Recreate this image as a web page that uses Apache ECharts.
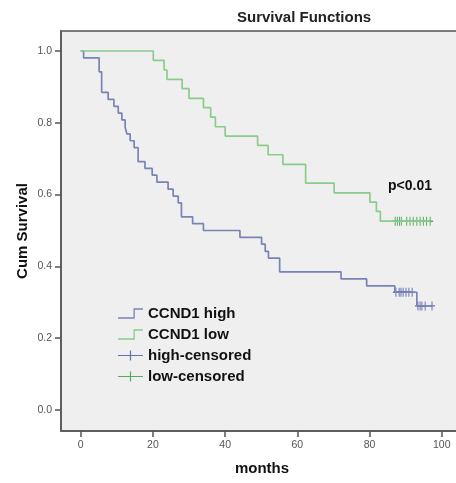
<!DOCTYPE html>
<html>
<head>
<meta charset="utf-8">
<title>Survival Functions</title>
<script src="https://cdn.jsdelivr.net/npm/echarts@6/dist/echarts.min.js"></script>
<style>
html, body { margin: 0; padding: 0; background: #fff; }
#main { width: 456px; height: 483px; }
</style>
</head>
<body>
<div id="main"></div>
<script>
// CCND1 high: months at each drop and survival after it
var highTimes = [0, 0.8, 5.1, 5.8, 7.6, 9.2, 10.4, 11.4, 12.3, 12.8, 13.7, 14.8, 15.9, 17.8, 19.8, 21.1,
    24.2, 25.6, 27.0, 27.9, 31.0, 34.0, 44.1, 50.1, 51.1, 52.0, 55.1, 72.1, 79.2, 87.0, 93.1];
var highSurv = [1, 0.981, 0.942, 0.885, 0.865, 0.846, 0.827, 0.808, 0.788, 0.769, 0.750, 0.731, 0.692, 0.673, 0.654, 0.635,
    0.615, 0.596, 0.577, 0.538, 0.519, 0.500, 0.481, 0.462, 0.442, 0.423, 0.385, 0.365, 0.346, 0.328, 0.290];
var highCensored = [87.3, 88.2, 88.7, 89.3, 90.1, 90.9, 91.8, 93.4, 94.0, 94.5, 95.4, 97.3];

// CCND1 low
var lowTimes = [0, 20.1, 23.1, 23.9, 28.1, 30.0, 34.0, 36.0, 37.3, 40.0, 49.0, 51.9, 56.0, 62.3, 70.2, 80.1, 81.9, 83.0];
var lowSurv = [1, 0.974, 0.947, 0.921, 0.895, 0.868, 0.842, 0.816, 0.789, 0.763, 0.737, 0.711, 0.684, 0.632, 0.605, 0.579, 0.553, 0.526];
var lowCensored = [87.1, 87.7, 88.3, 88.8, 90.3, 91.2, 92.1, 93.1, 94.0, 94.9, 95.8, 96.8];

var xTicks = [0, 20, 40, 60, 80, 100];
var yTicks = [0, 0.2, 0.4, 0.6, 0.8, 1.0];

var blue = '#7a83b6', blueMark = '#4152a4';
var green = '#8bcc8b', greenMark = '#2f9a40';
var font = '"Liberation Sans", Arial, sans-serif';

var stepIcon = 'path://M0,9 L15.5,9 L15.5,0 L25,0 L25,1.3 L16.8,1.3 L16.8,10.3 L0,10.3 Z';
var plusIcon = 'path://M0,4.4 L11.9,4.4 L11.9,0 L13.1,0 L13.1,4.4 L25,4.4 L25,5.6 L13.1,5.6 L13.1,10 L11.9,10 L11.9,5.6 L0,5.6 Z';
var plusMark = 'path://M4.2,0 L5.8,0 L5.8,4.2 L10,4.2 L10,5.8 L5.8,5.8 L5.8,10 L4.2,10 L4.2,5.8 L0,5.8 L0,4.2 L4.2,4.2 Z';

function survAt(times, surv, t) {
    var s = surv[0];
    for (var i = 0; i < times.length; i++) {
        if (times[i] <= t) s = surv[i];
    }
    return s;
}
// step curve runs on to the last censored case
function curve(times, surv, censored) {
    var pts = times.map(function (t, i) { return [t, surv[i]]; });
    pts.push([censored[censored.length - 1], surv[surv.length - 1]]);
    return pts;
}
function marks(times, surv, censored) {
    return censored.map(function (t) { return [t, survAt(times, surv, t)]; });
}

var myChart = echarts.init(document.getElementById('main'));
myChart.setOption({
    animation: false,
    textStyle: { fontFamily: font },
    title: {
        text: 'Survival Functions',
        left: 237, top: 10, padding: 0,
        textStyle: { fontSize: 15, fontWeight: 'bold', color: '#222', fontFamily: font }
    },
    legend: {
        orient: 'vertical',
        left: 118, top: 306, padding: 0,
        itemWidth: 25, itemHeight: 11, itemGap: 6,
        textStyle: { fontSize: 15, fontWeight: 'bold', color: '#111', fontFamily: font },
        data: [
            { name: 'CCND1 high', icon: stepIcon },
            { name: 'CCND1 low', icon: stepIcon },
            { name: 'high-censored', icon: plusIcon },
            { name: 'low-censored', icon: plusIcon }
        ]
    },
    grid: {
        show: true, left: 61, top: 31, width: 410, height: 400,
        outerBoundsMode: 'none', containLabel: false,
        backgroundColor: '#efefef', borderColor: '#555', borderWidth: 1.5
    },
    xAxis: {
        type: 'value', min: -5.46, max: 108.1,
        name: 'months', nameLocation: 'middle', nameGap: 30, nameMoveOverlap: false,
        nameTextStyle: { fontSize: 15, fontWeight: 'bold', color: '#111', fontFamily: font, padding: [0, 8, 0, 0] },
        axisLine: { show: true, onZero: false, lineStyle: { color: '#555', width: 1.5 } },
        axisTick: { show: true, length: 6, customValues: xTicks, lineStyle: { color: '#555', width: 1.5 } },
        axisLabel: { customValues: xTicks, fontSize: 10.5, color: '#555', margin: 9 },
        splitLine: { show: false }
    },
    yAxis: {
        type: 'value', min: -0.0585, max: 1.0557,
        name: 'Cum Survival', nameLocation: 'middle', nameGap: 31, nameMoveOverlap: false,
        nameTextStyle: { fontSize: 15, fontWeight: 'bold', color: '#111', fontFamily: font },
        axisLine: { show: true, onZero: false, lineStyle: { color: '#555', width: 1.5 } },
        axisTick: { show: true, length: 6, customValues: yTicks, lineStyle: { color: '#555', width: 1.5 } },
        axisLabel: {
            customValues: yTicks, fontSize: 10.5, color: '#555', margin: 9,
            formatter: function (v) { return v.toFixed(1); }
        },
        splitLine: { show: false }
    },
    graphic: [{
        type: 'text', left: 388, top: 179,
        style: { text: 'p<0.01', font: 'bold 14px ' + font, fill: '#111' }
    }],
    series: [
        {
            name: 'CCND1 high', type: 'line', step: 'end', symbol: 'none',
            data: curve(highTimes, highSurv, highCensored),
            lineStyle: { color: blue, width: 1.7 }, itemStyle: { color: blue }
        },
        {
            name: 'CCND1 low', type: 'line', step: 'end', symbol: 'none',
            data: curve(lowTimes, lowSurv, lowCensored),
            lineStyle: { color: green, width: 1.7 }, itemStyle: { color: green }
        },
        {
            name: 'high-censored', type: 'scatter', symbol: plusMark, symbolSize: [6, 9],
            data: marks(highTimes, highSurv, highCensored),
            itemStyle: { color: blueMark }
        },
        {
            name: 'low-censored', type: 'scatter', symbol: plusMark, symbolSize: [6, 9],
            data: marks(lowTimes, lowSurv, lowCensored),
            itemStyle: { color: greenMark }
        }
    ]
});
</script>
</body>
</html>
